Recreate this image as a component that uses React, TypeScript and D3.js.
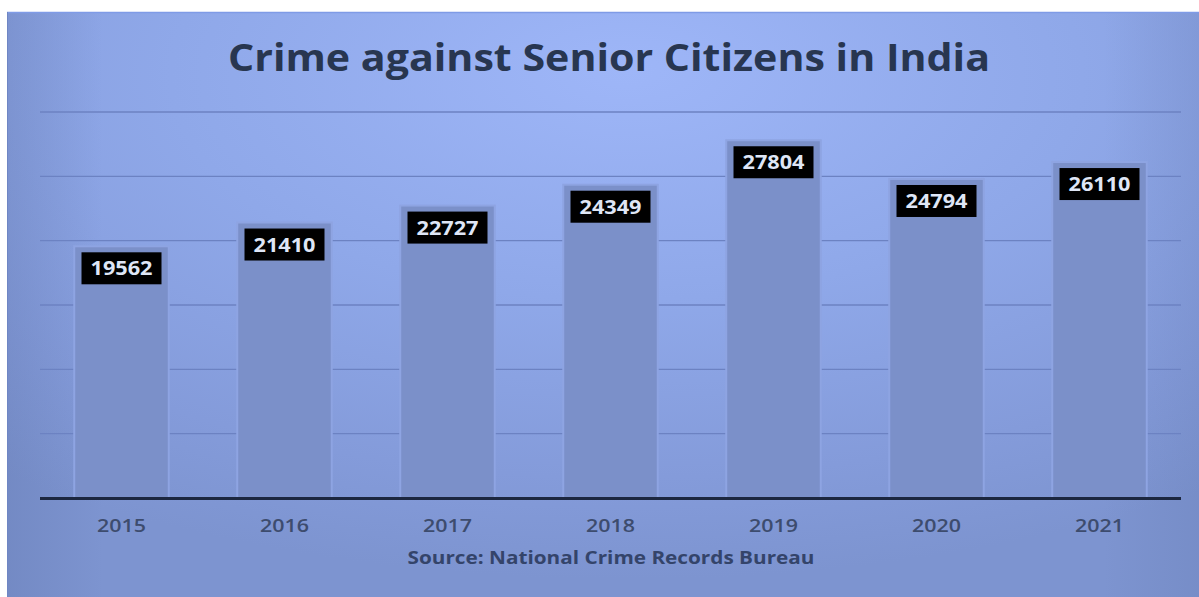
import React from "react";
import * as d3 from "d3";

const years = ["2015", "2016", "2017", "2018", "2019", "2020", "2021"];
const crimes = [19562, 21410, 22727, 24349, 27804, 24794, 26110];
const gridTicks = [5000, 10000, 15000, 20000, 25000, 30000];
const title = "Crime against Senior Citizens in India";
const source = "Source: National Crime Records Bureau";

const W = 1199;
const H = 597;

export default function App() {
  const x = d3.scaleBand<string>().domain(years).range([40, 1181]).paddingInner(0.42).paddingOuter(0.21);
  const y = d3.scaleLinear().domain([0, 30000]).range([498, 112]);
  const font = "'Open Sans', 'DejaVu Sans', sans-serif";

  return (
    <svg width={W} height={H} style={{ position: "absolute", left: 0, top: 0, background: "#fff" }}>
      <defs>
        <radialGradient id="bg" cx="52%" cy="12%" r="85%" fx="52%" fy="10%">
          <stop offset="0%" stopColor="#9eb6f8" />
          <stop offset="45%" stopColor="#8fa8e9" />
          <stop offset="80%" stopColor="#849bda" />
          <stop offset="100%" stopColor="#7d94d0" />
        </radialGradient>
        <linearGradient id="edge" x1="0" x2="1" y1="0" y2="0">
          <stop offset="0%" stopColor="#5d72a8" stopOpacity="0.3" />
          <stop offset="8%" stopColor="#5d72a8" stopOpacity="0" />
          <stop offset="92%" stopColor="#5d72a8" stopOpacity="0" />
          <stop offset="100%" stopColor="#5d72a8" stopOpacity="0.2" />
        </linearGradient>
      </defs>
      <rect x={7} y={12} width={W - 7} height={H - 12} fill="url(#bg)" />
      <rect x={7} y={12} width={W - 7} height={H - 12} fill="url(#edge)" />
      <line x1={7} x2={W} y1={12.5} y2={12.5} stroke="#7f9be6" strokeWidth={1.5} />
      <line x1={7.5} x2={7.5} y1={12} y2={H} stroke="#6f86c4" strokeWidth={1} />

      <text
        x={609}
        y={71}
        textAnchor="middle"
        fontFamily={font}
        fontWeight="bold"
        fontSize={38}
        fill="#283650"
        textLength={762}
        lengthAdjust="spacingAndGlyphs"
      >
        {title}
      </text>

      {gridTicks.map((t) => (
        <line key={t} x1={40} x2={1181} y1={y(t)} y2={y(t)} stroke="#6c82c2" strokeWidth={1.3} />
      ))}

      {years.map((yr, i) => {
        const bx = x(yr)!;
        const top = y(crimes[i]);
        return (
          <rect
            key={yr}
            x={bx}
            y={top}
            width={x.bandwidth()}
            height={y(0) - top}
            fill="#7b90c9"
            stroke="#8ea4e2"
            strokeWidth={2}
          />
        );
      })}

      <line x1={40} x2={1181} y1={498.5} y2={498.5} stroke="#1c2740" strokeWidth={3} />

      {years.map((yr, i) => {
        const cx = x(yr)! + x.bandwidth() / 2;
        const top = y(crimes[i]);
        return (
          <g key={"l" + yr}>
            <rect x={cx - 40} y={top + 6} width={80} height={32} fill="#000" />
            <text
              x={cx}
              y={top + 29}
              textAnchor="middle"
              fontFamily={font}
              fontWeight="bold"
              fontSize={19}
              fill="#dfe6f6"
              textLength={62}
              lengthAdjust="spacingAndGlyphs"
            >
              {crimes[i]}
            </text>
          </g>
        );
      })}

      {years.map((yr) => (
        <text
          key={"t" + yr}
          x={x(yr)! + x.bandwidth() / 2}
          y={532}
          textAnchor="middle"
          fontFamily={font}
          fontWeight={600}
          fontSize={18}
          fill="#3d4c6e"
          textLength={49}
          lengthAdjust="spacingAndGlyphs"
        >
          {yr}
        </text>
      ))}

      <text
        x={611}
        y={564}
        textAnchor="middle"
        fontFamily={font}
        fontWeight="bold"
        fontSize={17}
        fill="#34446a"
        textLength={407}
        lengthAdjust="spacingAndGlyphs"
      >
        {source}
      </text>
    </svg>
  );
}
